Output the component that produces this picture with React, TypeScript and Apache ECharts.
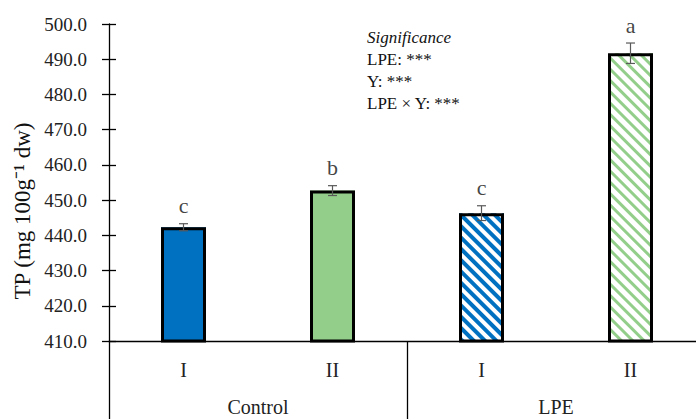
import React, { useEffect, useRef } from "react";
import * as echarts from "echarts";

const categories = ["I", "II", "I", "II"];
const groups = ["Control", "LPE"];
const means = [442.3, 452.7, 446.3, 491.7];
const errors = [1.0, 1.4, 2.1, 2.9];
const letters = ["c", "b", "c", "a"];
const yTicks = { min: 410, max: 500, interval: 10 };
const significance = ["LPE: ***", "Y: ***", "LPE × Y: ***"];

const BLUE = "#0070C0";
const GREEN = "#93CF8A";
const FONT = "'Palatino Linotype', 'Book Antiqua', 'Liberation Serif', serif";

export default function App() {
  const ref = useRef<HTMLDivElement>(null);
  useEffect(() => {
    if (!ref.current) return;
    const chart = echarts.init(ref.current, null, { renderer: "svg" });
    const stripe = (c: string, on: number, off: number) => ({
      symbol: "rect",
      color: c,
      backgroundColor: "#ffffff",
      dashArrayX: [1, 0],
      dashArrayY: [on, off],
      rotation: Math.PI / 4,
    });
    const fills = [
      { color: BLUE },
      { color: GREEN },
      { color: "#ffffff", decal: stripe(BLUE, 4, 4) },
      { color: "#ffffff", decal: stripe(GREEN, 3, 5) },
    ];
    const option: any = {
      animation: false,
      backgroundColor: "#ffffff",
      textStyle: { fontFamily: FONT },
      grid: {
        left: 109,
        top: 24,
        width: 596,
        bottom: 78,
        containLabel: false,
        outerBoundsMode: "none",
      },
      xAxis: [
        {
          type: "category",
          data: categories,
          position: "bottom",
          axisLine: { show: true, lineStyle: { color: "#000", width: 1.3 } },
          axisTick: { show: false },
          axisLabel: { margin: 19, fontSize: 20, color: "#222", fontFamily: FONT },
        },
        {
          type: "category",
          data: groups,
          position: "bottom",
          axisLine: { show: false },
          axisTick: { show: true, length: 78, alignWithLabel: false, lineStyle: { color: "#000", width: 1.3 } },
          axisLabel: { margin: 56, fontSize: 20, color: "#222", fontFamily: FONT },
        },
      ],
      yAxis: [
        {
          type: "value",
          min: yTicks.min,
          max: yTicks.max,
          interval: yTicks.interval,
          position: "left",
          splitLine: { show: false },
          axisLine: { show: true, lineStyle: { color: "#000", width: 1.3 } },
          axisTick: { show: true, length: 7, lineStyle: { color: "#000", width: 1.3 } },
          axisLabel: {
            margin: 22,
            fontSize: 19,
            color: "#222",
            fontFamily: FONT,
            formatter: (v: number) => v.toFixed(1),
          },
        },
        {
          type: "value",
          min: yTicks.min,
          max: yTicks.max,
          interval: yTicks.interval,
          position: "left",
          splitLine: { show: false },
          axisLine: { show: false },
          axisTick: { show: true, inside: true, length: 7, lineStyle: { color: "#000", width: 1.3 } },
          axisLabel: { show: false },
        },
      ],
      series: [
        {
          type: "bar",
          barWidth: 45,
          data: means.map((v, i) => ({ value: v, itemStyle: fills[i] })),
          z: 2,
        },
        {
          type: "bar",
          barWidth: 45,
          barGap: "-100%",
          data: means,
          itemStyle: { color: "rgba(0,0,0,0)", borderColor: "#000", borderWidth: 3 },
          z: 3,
        },
        {
          type: "custom",
          z: 4,
          data: means.map((m, i) => [i, m - errors[i], m + errors[i]]),
          renderItem: (params: any, api: any) => {
            const x = api.coord([api.value(0), api.value(1)])[0];
            const lo = api.coord([api.value(0), api.value(1)])[1];
            const hi = api.coord([api.value(0), api.value(2)])[1];
            const cap = 4.5;
            const style = { stroke: "#595959", lineWidth: 1.2 };
            return {
              type: "group",
              children: [
                { type: "line", shape: { x1: x, y1: lo, x2: x, y2: hi }, style },
                { type: "line", shape: { x1: x - cap, y1: lo, x2: x + cap, y2: lo }, style },
                { type: "line", shape: { x1: x - cap, y1: hi, x2: x + cap, y2: hi }, style },
              ],
            };
          },
        },
        {
          type: "scatter",
          symbolSize: 0,
          z: 5,
          data: means.map((m, i) => [i, m + errors[i]]),
          label: {
            show: true,
            position: "top",
            distance: 7,
            fontSize: 22,
            color: "#111",
            fontFamily: FONT,
            formatter: (p: any) => letters[p.dataIndex],
          },
        },
      ],
      graphic: [
        {
          type: "text",
          x: 22,
          y: 211,
          rotation: Math.PI / 2,
          style: {
            text: "TP (mg 100g⁻¹ dw)",
            fontSize: 23,
            fontFamily: FONT,
            fill: "#111",
            align: "center",
            verticalAlign: "middle",
          },
        },
        {
          type: "text",
          x: 367,
          y: 29,
          style: {
            text: "Significance",
            fontSize: 17,
            fontStyle: "italic",
            fontFamily: FONT,
            fill: "#111",
            align: "left",
            verticalAlign: "top",
          },
        },
        ...significance.map((t, i) => ({
          type: "text",
          x: 367,
          y: 51 + i * 22,
          style: {
            text: t,
            fontSize: 17,
            fontFamily: FONT,
            fill: "#111",
            align: "left",
            verticalAlign: "top",
          },
        })),
      ],
    };
    chart.setOption(option);
    return () => chart.dispose();
  }, []);
  return (
    <div
      ref={ref}
      style={{ position: "fixed", left: 0, top: 0, width: 696, height: 419, overflow: "hidden" }}
    />
  );
}
